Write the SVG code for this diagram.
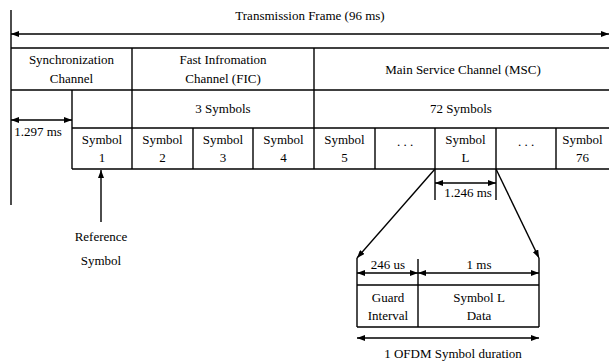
<svg xmlns="http://www.w3.org/2000/svg" width="612" height="361" viewBox="0 0 612 361">
  <defs>
    <marker id="ah" viewBox="0 0 8 6" refX="8" refY="3" markerWidth="8" markerHeight="6" orient="auto-start-reverse" markerUnits="userSpaceOnUse">
      <path d="M0,0 L8,3 L0,6 z" fill="#000"/>
    </marker>
  </defs>
  <style>
    .ln{stroke:#000;stroke-width:1.4;fill:none}
    .dim{stroke:#000;stroke-width:1.4;fill:none;marker-start:url(#ah);marker-end:url(#ah)}
    .ptr{stroke:#000;stroke-width:1.4;fill:none;marker-end:url(#ah)}
    text{font-family:"Liberation Serif","Times New Roman",serif;font-size:13px;fill:#000;text-anchor:middle}
  </style>
  <rect width="612" height="361" fill="#fff"/>

  <!-- frame outline and table grid -->
  <g id="frame-grid">
    <line class="ln" x1="11" y1="10" x2="11" y2="205"/>
    <line class="ln" x1="11" y1="48" x2="609" y2="48"/>
    <line class="ln" x1="11" y1="90" x2="609" y2="90"/>
    <line class="ln" x1="132" y1="48" x2="132" y2="169"/>
    <line class="ln" x1="314" y1="48" x2="314" y2="169"/>
    <line class="ln" x1="72" y1="90" x2="72" y2="169"/>
    <line class="ln" x1="72" y1="128" x2="609" y2="128"/>
    <line class="ln" x1="72" y1="169" x2="609" y2="169"/>
    <line class="ln" x1="193" y1="128" x2="193" y2="169"/>
    <line class="ln" x1="253" y1="128" x2="253" y2="169"/>
    <line class="ln" x1="375" y1="128" x2="375" y2="169"/>
    <line class="ln" x1="435" y1="128" x2="435" y2="169"/>
    <line class="ln" x1="496" y1="128" x2="496" y2="169"/>
    <line class="ln" x1="556" y1="128" x2="556" y2="169"/>
  </g>

  <g id="frame-title"><text x="310" y="20">Transmission Frame (96 ms)</text></g>
  <g id="sync-channel"><text x="71.5" y="64">Synchronization</text><text x="71.5" y="83">Channel</text></g>
  <g id="fic"><text x="223" y="64">Fast Infromation</text><text x="223" y="83">Channel (FIC)</text></g>
  <g id="msc"><text x="463" y="74">Main Service Channel (MSC)</text></g>
  <g id="fic-count"><text x="223" y="113">3 Symbols</text></g>
  <g id="msc-count"><text x="461" y="113">72 Symbols</text></g>
  <g id="sync-duration"><text x="38" y="136">1.297 ms</text></g>

  <g id="symbol-1"><text x="102" y="144">Symbol</text><text x="102" y="162">1</text></g>
  <g id="symbol-2"><text x="162.5" y="144">Symbol</text><text x="162.5" y="162">2</text></g>
  <g id="symbol-3"><text x="223" y="144">Symbol</text><text x="223" y="162">3</text></g>
  <g id="symbol-4"><text x="283.5" y="144">Symbol</text><text x="283.5" y="162">4</text></g>
  <g id="symbol-5"><text x="344.5" y="144">Symbol</text><text x="344.5" y="162">5</text></g>
  <g id="ellipsis-1"><text x="405" y="146">. . .</text></g>
  <g id="symbol-L"><text x="465.5" y="144">Symbol</text><text x="465.5" y="162">L</text></g>
  <g id="ellipsis-2"><text x="526" y="146">. . .</text></g>
  <g id="symbol-76"><text x="582.5" y="144">Symbol</text><text x="582.5" y="162">76</text></g>

  <g id="reference-label"><text x="101" y="241">Reference</text><text x="101" y="265">Symbol</text></g>
  <g id="symbol-L-duration"><text x="468" y="197">1.246 ms</text></g>

  <!-- expanded OFDM symbol -->
  <g id="ofdm-symbol">
    <line class="ln" x1="357" y1="258" x2="357" y2="327"/>
    <line class="ln" x1="418" y1="259" x2="418" y2="327"/>
    <line class="ln" x1="539" y1="258" x2="539" y2="327"/>
    <line class="ln" x1="357" y1="285" x2="539" y2="285"/>
    <line class="ln" x1="357" y1="327" x2="539" y2="327"/>
    <text x="388" y="269">246 us</text>
    <text x="479" y="269">1 ms</text>
    <text x="388" y="302">Guard</text>
    <text x="388" y="320">Interval</text>
    <text x="479" y="302">Symbol L</text>
    <text x="479" y="320">Data</text>
    <text x="453" y="358">1 OFDM Symbol duration</text>
  </g>

  <!-- connectors and dimension arrows -->
  <g id="connectors">
    <line class="dim" x1="11" y1="34" x2="609" y2="34"/>
    <line class="dim" x1="11" y1="120" x2="72" y2="120"/>
    <line class="ptr" x1="101" y1="222" x2="101" y2="170"/>
    <line class="ln" x1="435" y1="169" x2="435" y2="200"/>
    <line class="ln" x1="496" y1="169" x2="496" y2="200"/>
    <line class="dim" x1="435" y1="183" x2="496" y2="183"/>
    <line class="ptr" x1="435" y1="169" x2="357" y2="258"/>
    <line class="ptr" x1="496" y1="169" x2="539" y2="258"/>
    <line class="dim" x1="357" y1="273" x2="418" y2="273"/>
    <line class="dim" x1="418" y1="273" x2="539" y2="273"/>
    <line class="dim" x1="357" y1="338" x2="539" y2="338"/>
  </g>
</svg>
